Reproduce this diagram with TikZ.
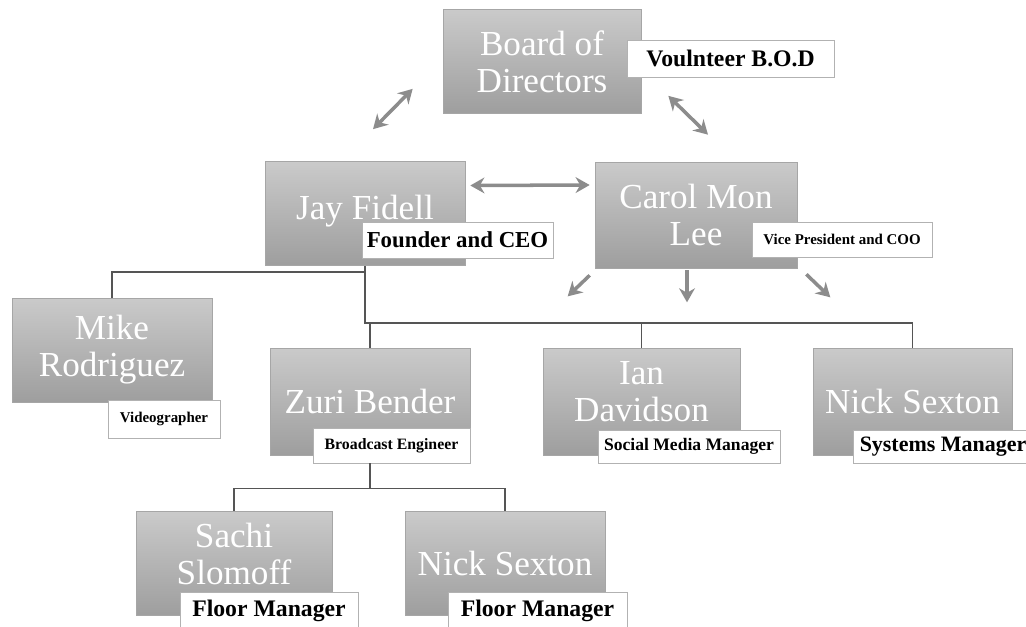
\documentclass[tikz,border=0pt]{standalone}
\usepackage{fontspec}
\setmainfont{Liberation Serif}
\usepackage{xcolor}
\usepackage{tikz}
\usetikzlibrary{arrows.meta,positioning}
\definecolor{boxtop}{RGB}{202,202,202}
\definecolor{boxbot}{RGB}{158,158,158}
\definecolor{arrgray}{RGB}{140,140,140}
\definecolor{linegray}{RGB}{85,85,85}

\begin{document}
\begin{tikzpicture}[x=0.02cm, y=-0.02cm,
      person/.style={draw=gray!70, top color=boxtop, bottom color=boxbot,
                  text=white, minimum width=4cm, minimum height=2.08cm,
                  inner sep=2pt, font=\fontsize{20}{21}\selectfont, align=center},
      role/.style={draw=gray!60, fill=white, inner sep=1pt,
                  minimum height=0.7cm, align=center},
      dbl/.style={{Stealth[length=8pt,width=9pt]}-{Stealth[length=8pt,width=9pt]},
                  line width=2pt, color=arrgray},
      sgl/.style={-{Stealth[length=8pt,width=9pt]}, line width=2pt, color=arrgray},
      conn/.style={line width=0.8pt, color=linegray}
  ]
    \useasboundingbox (0,0) rectangle (1026,626);
    \node[person, minimum width=3.96cm] (bod) at (542,61.5) {Board of\\ Directors};
    \node[person] (jay) at (365,213.5) {Jay Fidell\\[-14pt]~};
    \node[person, minimum width=4.04cm, minimum height=2.12cm] (carol) at (696,215) {Carol Mon\\ Lee};
    \node[person] (mike) at (112,350) {Mike\\ Rodriguez};
    \node[person, minimum height=2.14cm] (zuri) at (370,401.5) {Zuri Bender};
    \node[person, minimum width=3.94cm, minimum height=2.14cm] (ian) at (641.5,401.5) {Ian\\ Davidson\\[-10pt]~};
    \node[person, minimum width=3.98cm, minimum height=2.14cm] (nick) at (912.5,401.5) {Nick Sexton};
    \node[person, minimum width=3.92cm] (sachi) at (234,563.5) {Sachi\\ Slomoff\\[-10pt]~};
    \node[person] (nickb) at (505,563.5) {Nick Sexton};

    \node[role, minimum width=4.14cm, minimum height=0.74cm,
          font=\bfseries\fontsize{13.5}{15}\selectfont] (bodl) at (730.5,58.5) {Voulnteer B.O.D};
    \node[role, minimum width=3.82cm, minimum height=0.72cm,
          font=\bfseries\fontsize{13}{15}\selectfont] (jayl) at (457.5,240) {Founder and CEO};
    \node[role, minimum width=3.6cm, minimum height=0.7cm,
          font=\bfseries\fontsize{8.5}{10}\selectfont] (carl) at (842,239.5) {Vice President and COO};
    \node[role, minimum width=2.24cm, minimum height=0.76cm,
          font=\bfseries\fontsize{8.5}{10}\selectfont] (mikl) at (164,419) {Videographer};
    \node[role, minimum width=3.14cm, minimum height=0.7cm,
          font=\bfseries\fontsize{9}{11}\selectfont] (zurl) at (391.5,445.5) {Broadcast Engineer};
    \node[role, minimum width=3.64cm, minimum height=0.66cm,
          font=\bfseries\fontsize{10}{12}\selectfont] (ianl) at (689,446.5) {Social Media Manager};
    \node[role, minimum width=3.6cm, minimum height=0.66cm,
          font=\bfseries\fontsize{12.5}{14}\selectfont] (nicl) at (943,446.5) {Systems Manager};
    \node[role, minimum width=3.56cm, minimum height=0.76cm,
          font=\bfseries\fontsize{13.5}{15}\selectfont] (sacl) at (269,611) {Floor Manager};
    \node[role, minimum width=3.58cm, minimum height=0.76cm,
          font=\bfseries\fontsize{13.5}{15}\selectfont] (nicbl) at (537.5,611) {Floor Manager};

    \draw[dbl] ([shift={(-30,-25)}]bod.south west) -- ([shift={(8,-32)}]jay.north);
    \draw[dbl] ([shift={(27,-18)}]bod.south east) -- ([shift={(12,-27)}]carol.north);
    \draw[dbl] ([shift={(5,-28)}]jay.east) -- ([shift={(-5,-30)}]carol.west);
    \draw[sgl] ([shift={(-5,7)}]carol.south west) -- ([shift={(-27,28)}]carol.south west);
    \draw[sgl] ([shift={(-9,2)}]carol.south) -- ([shift={(-9,34)}]carol.south);
    \draw[sgl] ([shift={(9,6)}]carol.south east) -- ([shift={(33,29)}]carol.south east);

    \coordinate (jbus) at ([shift={(0,6)}]jay.south);
    \draw[conn] (jay.south) -- (jbus) -| (mike.north);
    \draw[conn] (jbus) -- ++(0,51) coordinate (bus) -| (nick.north);
    \draw[conn] (bus) -| (zuri.north);
    \draw[conn] (bus) -| (ian.north);
    \draw[conn] (zuri.south |- zurl.south) -- ++(0,25) coordinate (zbus) -| (sachi.north);
    \draw[conn] (zbus) -| (nickb.north);
  \end{tikzpicture}
\end{document}
